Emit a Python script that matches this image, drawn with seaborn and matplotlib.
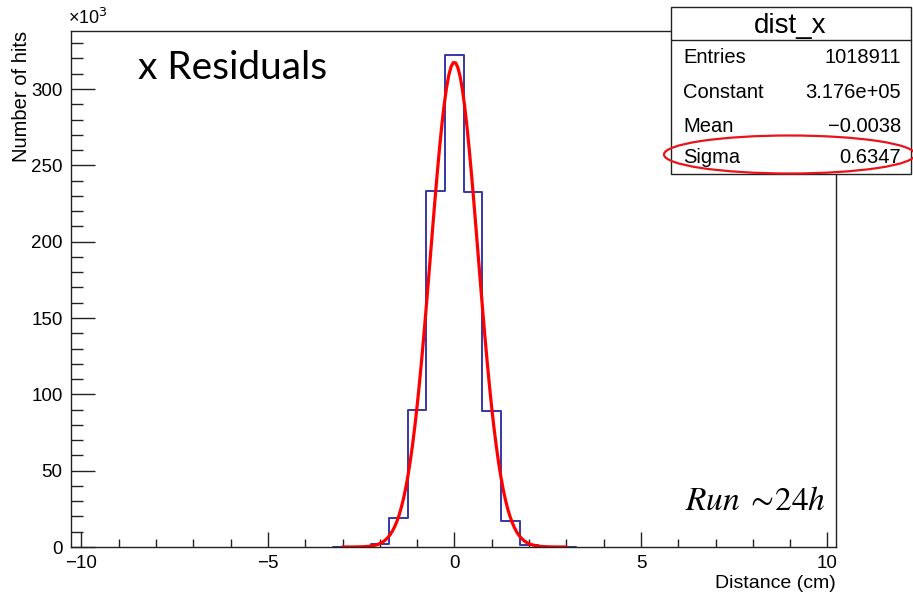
import numpy as np
import pandas as pd
import matplotlib
matplotlib.use("Agg")
import matplotlib.pyplot as plt
import seaborn as sns
from matplotlib.ticker import MultipleLocator
from matplotlib.patches import Rectangle, Ellipse
from matplotlib.lines import Line2D

# ---- data (counts in units of 10^3) ----
bin_centers = [-3.0, -2.5, -2.0, -1.5, -1.0, -0.5, 0.0, 0.5, 1.0, 1.5, 2.0, 2.5, 3.0]
bin_counts = [0.1, 0.3, 1.8, 18.8, 89.7, 233.4, 322.3, 232.3, 88.9, 17.2, 1.3, 0.3, 0.1]

# fit parameters read from the stats box
fit_constant = 317.6   # x10^3
fit_mean = -0.0038
fit_sigma = 0.6347
fit_range = (-3.0, 3.0)

stat_names = ["Entries", "Constant", "Mean", "Sigma"]
stat_values = ["1018911", "3.176e+05", "\u22120.0038", "0.6347"]

x_ticks = [-10, -5, 0, 5, 10]
y_ticks = [0, 50, 100, 150, 200, 250, 300]

sns.set_style("white")
plt.rcParams["font.family"] = ["Liberation Sans", "DejaVu Sans"]
plt.rcParams["text.color"] = "black"
plt.rcParams["axes.labelcolor"] = "black"
plt.rcParams["xtick.color"] = "black"
plt.rcParams["ytick.color"] = "black"

W, H = 913, 597
fig = plt.figure(figsize=(W / 100, H / 100), dpi=100)
ax = fig.add_axes([71 / W, 1 - 547 / H, (835.7 - 71) / W, (547 - 31) / H])

df = pd.DataFrame({"x": bin_centers, "n": bin_counts})
sns.histplot(data=df, x="x", weights="n", binwidth=0.5, binrange=(-3.25, 3.25),
             element="step", fill=False, color="#3636a8", linewidth=1.4, ax=ax)

xs = np.linspace(fit_range[0], fit_range[1], 100)
ys = fit_constant * np.exp(-0.5 * ((xs - fit_mean) / fit_sigma) ** 2)
sns.lineplot(x=xs, y=ys, color="#ff0000", linewidth=2.3, ax=ax)

ax.set_xlim(-10.28, 10.22)
ax.set_ylim(0, 338)
ax.set_xticks(x_ticks)
ax.set_yticks(y_ticks)
ax.xaxis.set_minor_locator(MultipleLocator(1))
ax.yaxis.set_minor_locator(MultipleLocator(10))
ax.tick_params(bottom=True, left=True, top=False, right=False, which="both")
ax.tick_params(axis="x", which="major", direction="in", length=10.8, width=1, pad=6,
               labelsize=13.5, color="#222222", labelcolor="black")
ax.tick_params(axis="x", which="minor", direction="in", length=5.8, width=1, color="#222222")
ax.tick_params(axis="y", which="major", direction="in", length=17.3, width=1, pad=6,
               labelsize=13.5, color="#222222", labelcolor="black")
ax.tick_params(axis="y", which="minor", direction="in", length=8.6, width=1, color="#222222")
for s in ax.spines.values():
    s.set_visible(True)
    s.set_color("#222222")
    s.set_linewidth(1.0)

ax.set_xlabel("Distance (cm)", fontsize=14, loc="right")
ax.xaxis.set_label_coords(1.0, -0.054)
ax.set_ylabel("Number of hits", fontsize=14.5, loc="top")
ax.yaxis.set_label_coords(-0.052, 1.0)

fig.text(68 / W, 1 - 18 / H, "\u00d710$^{3}$", fontsize=13, ha="left", va="center",
         math_fontfamily="dejavusans")

fig.text(138 / W, 1 - 68 / H, "x Residuals", fontsize=28, family="Lato",
         ha="left", va="center")
fig.text(826 / W, 1 - 501 / H, r"$Run\;{\sim}\!24h$", fontsize=24, ha="right", va="center",
         math_fontfamily="stix")

# stats box
bx0, bx1, by0, by1 = 671, 911, 7, 174
fig.add_artist(Rectangle((bx0 / W, 1 - by1 / H), (bx1 - bx0) / W, (by1 - by0) / H,
                         transform=fig.transFigure, facecolor="white", edgecolor="#222222",
                         linewidth=1.0, zorder=5))
fig.add_artist(Line2D([bx0 / W, bx1 / W], [1 - 40 / H, 1 - 40 / H], transform=fig.transFigure,
                      color="#222222", linewidth=1.0, zorder=6))
fig.text(790 / W, 1 - 33 / H, "dist_x", fontsize=20, ha="center", va="baseline", zorder=7)
baselines = [63, 98, 132, 163]
for name, val, yb in zip(stat_names, stat_values, baselines):
    fig.text(683 / W, 1 - yb / H, name, fontsize=14.5, ha="left", va="baseline", zorder=7)
    fig.text(901 / W, 1 - yb / H, val, fontsize=14.5, ha="right", va="baseline", zorder=7)

fig.add_artist(Ellipse((789.5 / W, 1 - 154.5 / H), 251 / W, 38 / H, transform=fig.transFigure,
                       fill=False, edgecolor="#e8131b", linewidth=1.6, zorder=8, clip_on=False))

fig.savefig("out.png", dpi=100)
